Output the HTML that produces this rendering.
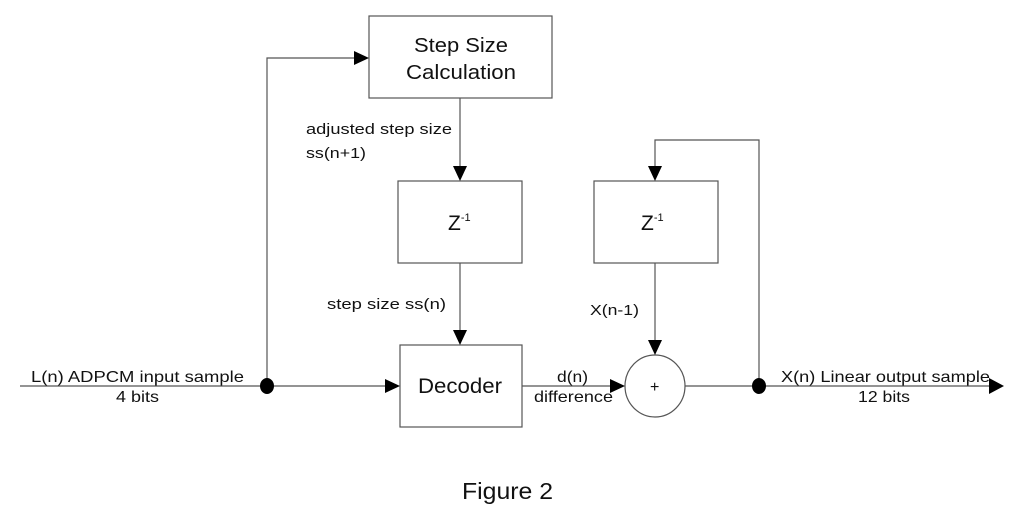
<!DOCTYPE html>
<html><head><style>
body{margin:0;background:#fff;}
svg text{font-family:"Liberation Sans",sans-serif;fill:#111;}
</style></head><body>
<svg width="1024" height="518" viewBox="0 0 1024 518" xmlns="http://www.w3.org/2000/svg">
<g fill="none" stroke="#555" stroke-width="1.2">
<rect x="369" y="16" width="183" height="82"/>
<rect x="398" y="181" width="124" height="82"/>
<rect x="594" y="181" width="124" height="82"/>
<rect x="400" y="345" width="122" height="82"/>
<ellipse cx="655" cy="386" rx="30" ry="31"/>
<line x1="20" y1="386" x2="392" y2="386"/>
<line x1="522" y1="386" x2="617" y2="386"/>
<line x1="685" y1="386" x2="994" y2="386"/>
<polyline points="267,386 267,58 360,58"/>
<polyline points="759,386 759,140 655,140 655,171"/>
<line x1="460" y1="98" x2="460" y2="171"/>
<line x1="460" y1="263" x2="460" y2="336"/>
<line x1="655" y1="263" x2="655" y2="346"/>
</g>
<g fill="#000">
<polygon points="369,58 354,51 354,65"/>
<polygon points="460,181 453,166 467,166"/>
<polygon points="460,345 453,330 467,330"/>
<polygon points="655,181 648,166 662,166"/>
<polygon points="655,355 648,340 662,340"/>
<polygon points="400,386 385,379 385,393"/>
<polygon points="625,386 610,379 610,393"/>
<polygon points="1004,386 989,378 989,394"/>
<ellipse cx="267" cy="386" rx="7" ry="8"/>
<ellipse cx="759" cy="386" rx="7" ry="8"/>
</g>
<g lengthAdjust="spacingAndGlyphs">
<text x="414" y="52" font-size="20" textLength="94" lengthAdjust="spacingAndGlyphs">Step Size</text>
<text x="406" y="79" font-size="20" textLength="110" lengthAdjust="spacingAndGlyphs">Calculation</text>
<text x="418" y="393" font-size="21" textLength="84" lengthAdjust="spacingAndGlyphs">Decoder</text>
<text x="448" y="230" font-size="21">Z<tspan font-size="11" dy="-9">-1</tspan></text>
<text x="641" y="230" font-size="21">Z<tspan font-size="11" dy="-9">-1</tspan></text>
<text x="306" y="134" font-size="15" textLength="146" lengthAdjust="spacingAndGlyphs">adjusted step size</text>
<text x="306" y="158" font-size="15" textLength="60" lengthAdjust="spacingAndGlyphs">ss(n+1)</text>
<text x="327" y="309" font-size="15" textLength="119" lengthAdjust="spacingAndGlyphs">step size ss(n)</text>
<text x="590" y="315" font-size="15" textLength="49" lengthAdjust="spacingAndGlyphs">X(n-1)</text>
<text x="650" y="392" font-size="16">+</text>
<text x="31" y="382" font-size="16" textLength="213" lengthAdjust="spacingAndGlyphs">L(n) ADPCM input sample</text>
<text x="116" y="402" font-size="16" textLength="43" lengthAdjust="spacingAndGlyphs">4 bits</text>
<text x="557" y="382" font-size="16" textLength="31" lengthAdjust="spacingAndGlyphs">d(n)</text>
<text x="534" y="402" font-size="16" textLength="79" lengthAdjust="spacingAndGlyphs">difference</text>
<text x="781" y="382" font-size="16" textLength="209" lengthAdjust="spacingAndGlyphs">X(n) Linear output sample</text>
<text x="858" y="402" font-size="16" textLength="52" lengthAdjust="spacingAndGlyphs">12 bits</text>
</g>
<text x="462" y="499" font-size="23" textLength="91" lengthAdjust="spacingAndGlyphs">Figure 2</text>
</svg>
</body></html>
